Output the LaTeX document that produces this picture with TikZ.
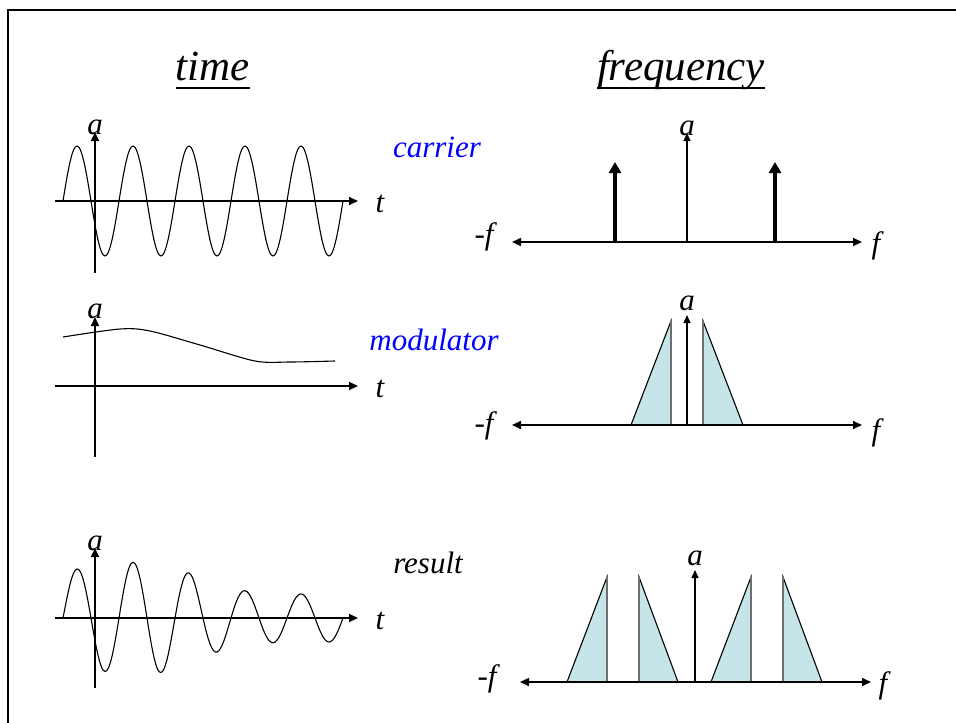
\documentclass[tikz,border=0pt]{standalone}
\usepackage{fontspec}
\setmainfont{Liberation Serif}
\usetikzlibrary{arrows.meta}
\definecolor{bandfill}{HTML}{C6E5E8}
\definecolor{bandedge}{HTML}{6E6E6E}
\definecolor{labelblue}{HTML}{0000FF}

\begin{document}
\begin{tikzpicture}[x=1pt,y=-1pt,
  axis/.style={line width=1.6pt,-{Triangle[length=9pt,width=8pt]}},
  faxis/.style={line width=1.6pt,{Triangle[length=9pt,width=8pt]}-{Triangle[length=9pt,width=8pt]}},
  vaxis/.style={line width=1.4pt,-{Triangle[length=8pt,width=7pt]}},
  spike/.style={line width=4pt,-{Triangle[length=11pt,width=12pt]}},
  wave/.style={line width=1.1pt},
  band/.style={fill=bandfill,draw=black,line width=1.1pt},
  bandside/.style={draw=bandedge,line width=1.4pt},
  lbl/.style={font=\fontsize{31}{36}\selectfont\itshape,inner sep=0pt,anchor=base},
  ttl/.style={font=\fontsize{43}{50}\selectfont\itshape,inner sep=0pt,anchor=base}]

  \useasboundingbox (0,0) rectangle (956,723);
  \draw[line width=2pt] (8,723) -- (8,10) -- (956,10);

  \node[ttl] (time) at (213,80) {time};
  \node[ttl] (freq) at (681,80) {frequency};
  \draw[line width=2pt] ([yshift=-8pt]time.base west) -- ([yshift=-8pt]time.base east);
  \draw[line width=2pt] ([yshift=-8pt]freq.base west) -- ([yshift=-8pt]freq.base east);

  \node[lbl,text=labelblue] (carrier) at (437,157) {carrier};
  \node[lbl,text=labelblue] (modul) at (434,350) {modulator};
  \node[lbl] (result) at (428,573) {result};

  % time axes
  \coordinate (h1w) at (55,201);  \coordinate (h1e) at (358,201);
  \coordinate (v1s) at (95,273);  \coordinate (v1n) at (95,132);
  \coordinate (h2w) at (55,386);  \coordinate (h2e) at (358,386);
  \coordinate (v2s) at (95,457);  \coordinate (v2n) at (95,317);
  \coordinate (h3w) at (55,618);  \coordinate (h3e) at (358,618);
  \coordinate (v3s) at (95,688);  \coordinate (v3n) at (95,548);

  \draw[axis] (h1w) -- (h1e);
  \draw[axis] (v1s) -- (v1n);
  \draw[axis] (h2w) -- (h2e);
  \draw[axis] (v2s) -- (v2n);
  \draw[axis] (h3w) -- (h3e);
  \draw[axis] (v3s) -- (v3n);

  \node[lbl] (a1) at (95,134) {a};
  \node[lbl] (a2) at (95,318) {a};
  \node[lbl] (a3) at (95,550) {a};
  \node[lbl] (t1) at (380,212) {t};
  \node[lbl] (t2) at (380,397) {t};
  \node[lbl] (t3) at (380,629) {t};

  \draw[wave] plot[domain=63:343,samples=161,smooth]
    (\x,{201-55*sin((\x-63)*6.42857)});
  \draw[wave] plot[smooth] coordinates
    {(63,337) (120,329) (150,331) (200,345) (255,361) (290,362) (335,361)};
  \draw[wave] plot[domain=63:343,samples=161,smooth]
    (\x,{618-((\x<147) ? (56-7*((147-\x)/70)*((147-\x)/70)) : (24+32*exp(-((\x-147)/65)*((\x-147)/65))))*sin((\x-63)*6.42857)});

  % frequency axes
  \coordinate (f1w) at (512,242); \coordinate (f1e) at (862,242);
  \coordinate (f2w) at (512,425); \coordinate (f2e) at (862,425);
  \coordinate (f3w) at (520,682); \coordinate (f3e) at (871,682);
  \coordinate (u1s) at (687,242); \coordinate (u1n) at (687,133);
  \coordinate (u2s) at (687,425); \coordinate (u2n) at (687,315);
  \coordinate (u3s) at (695,682); \coordinate (u3n) at (695,570);
  \coordinate (s1s) at (615,242); \coordinate (s1n) at (615,162);
  \coordinate (s2s) at (775,242); \coordinate (s2n) at (775,162);

  \filldraw[band] (631,425) -- (671,321) -- (671,425) -- cycle;
  \filldraw[band] (743,425) -- (703,321) -- (703,425) -- cycle;
  \draw[bandside] (671,321) -- (671,425);
  \draw[bandside] (703,321) -- (703,425);

  \filldraw[band] (567,682) -- (607,577) -- (607,682) -- cycle;
  \filldraw[band] (678,682) -- (639,577) -- (639,682) -- cycle;
  \filldraw[band] (711,682) -- (751,577) -- (751,682) -- cycle;
  \filldraw[band] (822,682) -- (783,577) -- (783,682) -- cycle;
  \draw[bandside] (607,577) -- (607,682);
  \draw[bandside] (639,577) -- (639,682);
  \draw[bandside] (751,577) -- (751,682);
  \draw[bandside] (783,577) -- (783,682);

  \draw[faxis] (f1w) -- (f1e);
  \draw[faxis] (f2w) -- (f2e);
  \draw[faxis] (f3w) -- (f3e);
  \draw[vaxis] (u1s) -- (u1n);
  \draw[vaxis] (u2s) -- (u2n);
  \draw[vaxis] (u3s) -- (u3n);
  \draw[spike] (s1s) -- (s1n);
  \draw[spike] (s2s) -- (s2n);

  \node[lbl] (a4) at (687,135) {a};
  \node[lbl] (a5) at (687,310) {a};
  \node[lbl] (a6) at (695,565) {a};
  \node[lbl] (nf1) at (484,244) {-f};
  \node[lbl] (nf2) at (484,433) {-f};
  \node[lbl] (nf3) at (487,686) {-f};
  \node[lbl] (pf1) at (876,253) {f};
  \node[lbl] (pf2) at (876,440) {f};
  \node[lbl] (pf3) at (883,693) {f};
\end{tikzpicture}
\end{document}
